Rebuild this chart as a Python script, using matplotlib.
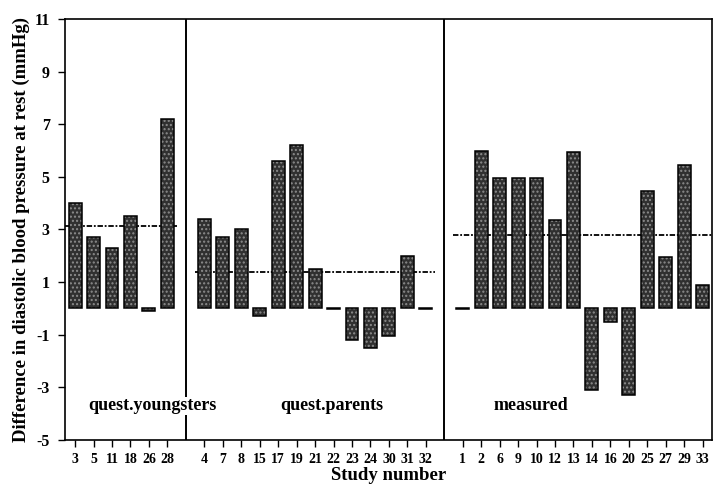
import matplotlib
matplotlib.use("Agg")
import matplotlib.pyplot as plt
import numpy as np

# Study numbers and differences (mmHg), per data source
youngsters_ids = ["3", "5", "11", "18", "26", "28"]
youngsters_diff = [4.0, 2.7, 2.3, 3.5, -0.1, 7.2]
youngsters_mean = 3.15

parents_ids = ["4", "7", "8", "15", "17", "19", "21", "22", "23", "24", "30", "31", "32"]
parents_diff = [3.4, 2.7, 3.0, -0.3, 5.6, 6.2, 1.5, -0.03, -1.2, -1.5, -1.05, 2.0, -0.03]
parents_mean = 1.38

measured_ids = ["1", "2", "6", "9", "10", "12", "13", "14", "16", "20", "25", "27", "29", "33"]
measured_diff = [-0.03, 6.0, 4.95, 4.95, 4.95, 3.35, 5.95, -3.1, -0.5, -3.3, 4.45, 1.95, 5.45, 0.9]
measured_mean = 2.8

group_names = ["quest.youngsters", "quest.parents", "measured"]
y_ticks = [-5, -3, -1, 1, 3, 5, 7, 9, 11]

groups = [
    (youngsters_ids, youngsters_diff, youngsters_mean),
    (parents_ids, parents_diff, parents_mean),
    (measured_ids, measured_diff, measured_mean),
]

plt.rcParams["font.family"] = ["Liberation Serif", "DejaVu Serif"]
plt.rcParams["font.weight"] = "bold"

fig = plt.figure(figsize=(7.14, 4.87), dpi=100)
ax = fig.add_axes([0.091, 0.0965, 0.906, 0.8645])

xlim = (-0.55, 34.5)
positions, labels = [], []
start = 0
bounds = []
for ids, diffs, mean in groups:
    x = np.arange(start, start + len(ids))
    positions.extend(x)
    labels.extend(ids)
    bounds.append((start - 0.5 if start > 0 else xlim[0], start + len(ids) - 0.5))
    # stippled dark bars with black outline
    ax.bar(x, diffs, width=0.7, color="#303030", edgecolor="#8c8c8c",
           hatch="....", linewidth=0, zorder=3)
    ax.bar(x, diffs, width=0.7, fill=False, edgecolor="black",
           linewidth=1.1, zorder=4)
    start += len(ids) + 1

bounds[-1] = (bounds[-1][0], xlim[1])

# group mean lines
for (lo, hi), (ids, diffs, mean) in zip(bounds, groups):
    ax.plot([lo, hi], [mean, mean], color="black", linestyle=(0, (3, 1, 1, 1)),
            linewidth=1.3, zorder=2)

# group separators
for (lo, hi) in bounds[:-1]:
    ax.axvline(hi + 0.5, color="black", linewidth=1.4, zorder=5)

# group captions
label_x = [4.2, 13.9, 24.7]
for name, lx in zip(group_names, label_x):
    ax.text(lx, -3.7, name, ha="center", va="center", fontsize=13,
            fontweight="bold", zorder=6,
            bbox=dict(facecolor="white", edgecolor="none", pad=0.5))

ax.set_xlim(*xlim)
ax.set_ylim(-5, 11)
ax.set_xticks(positions)
ax.set_xticklabels(labels, fontsize=10, fontweight="bold")
ax.set_yticks(y_ticks)
ax.set_yticklabels([str(t) for t in y_ticks], fontsize=11.5, fontweight="bold")
ax.tick_params(axis="both", direction="out", length=5, width=1, color="black")
ax.tick_params(axis="y", pad=6)
ax.tick_params(axis="x", pad=4)

for side in ["top", "bottom", "left", "right"]:
    ax.spines[side].set_linewidth(1.2)
    ax.spines[side].set_color("black")

ax.set_ylabel("Difference in diastolic blood pressure at rest (mmHg)",
              fontsize=13.5, fontweight="bold", labelpad=3)
ax.set_xlabel("Study number", fontsize=13.5, fontweight="bold", labelpad=1)

fig.savefig("out.png", dpi=100)
